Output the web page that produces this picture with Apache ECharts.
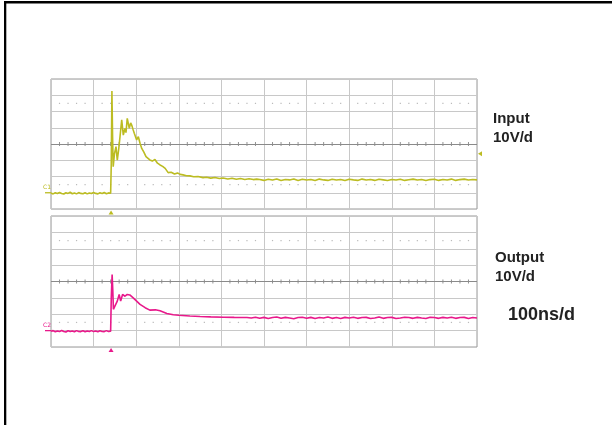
<!DOCTYPE html>
<html><head><meta charset="utf-8">
<script src="https://cdn.jsdelivr.net/npm/echarts@6/dist/echarts.min.js"></script>
<style>html,body{margin:0;padding:0;background:#fff}#c{width:612px;height:425px}</style>
</head><body><div id="c"></div><script>
// Time in divisions (100 ns/div), amplitude in divisions (10 V/div)
const inputTime = [0.00,0.05,0.10,0.15,0.20,0.25,0.30,0.35,0.40,0.45,0.50,0.55,0.60,0.65,0.70,0.75,0.80,0.85,0.90,0.95,1.00,1.05,1.10,1.15,1.20,1.25,1.30,1.35,1.40,
  1.415,1.43,1.445,1.46,1.49,1.526,1.556,1.59,1.62,1.66,1.697,1.737,1.76,1.79,1.838,1.87,1.894,1.925,1.955,2.01,2.05,2.09,2.13,2.18,2.23,2.27,2.32,2.38,2.44,2.50,2.56,2.62,2.68,2.75,2.82,2.90,2.97,3.03,3.10,3.18,3.26,3.35,3.45,3.57,3.65,3.75,3.85,3.95,4.04,4.15,4.25,4.35,4.45,4.55,4.65,4.75,4.83,
  4.9,5.0,5.1,5.2,5.3,5.4,5.5,5.6,5.7,5.8,5.9,6.0,6.1,6.2,6.3,6.4,6.5,6.6,6.7,6.8,6.9,7.0,7.1,7.2,7.3,7.4,7.5,7.6,7.7,7.8,7.9,8.0,8.1,8.2,8.3,8.4,8.5,8.6,8.7,8.8,8.9,9.0,9.1,9.2,9.3,9.4,9.5,9.6,9.7,9.8,9.9,10.0];
const inputVolts = [-3.02,-3.07,-3.00,-3.05,-2.98,-3.04,-3.08,-3.00,-3.04,-2.97,-3.06,-3.01,-3.07,-2.99,-3.04,-3.06,-3.00,-3.07,-3.01,-3.05,-2.98,-3.04,-3.07,-3.00,-3.04,-2.98,-3.06,-3.01,-3.03,
  -1.2,3.26,0.5,-1.40,-0.6,-0.16,-1.0,-0.3,0.45,1.48,0.55,0.96,0.7,1.58,0.96,1.3,1.17,0.9,0.66,0.25,0.45,0.05,-0.27,-0.5,-0.78,-0.85,-0.98,-1.05,-0.95,-1.18,-1.29,-1.38,-1.5,-1.76,-1.74,-1.85,-1.78,-1.87,-1.90,-1.95,-1.96,-2.02,-2.00,-2.07,-2.05,-2.10,-2.06,-2.12,-2.09,-2.15,-2.11,-2.17,-2.12,-2.18,-2.14,-2.19,-2.16,
  -2.18,-2.24,-2.17,-2.22,-2.15,-2.25,-2.18,-2.21,-2.15,-2.24,-2.17,-2.22,-2.18,-2.25,-2.16,-2.21,-2.24,-2.17,-2.22,-2.18,-2.25,-2.17,-2.21,-2.24,-2.16,-2.22,-2.18,-2.24,-2.17,-2.21,-2.25,-2.18,-2.22,-2.17,-2.24,-2.20,-2.16,-2.22,-2.18,-2.25,-2.19,-2.17,-2.24,-2.18,-2.22,-2.16,-2.24,-2.19,-2.16,-2.22,-2.18,-2.21];
const outputTime = [0.00,0.05,0.10,0.15,0.20,0.25,0.30,0.35,0.40,0.45,0.50,0.55,0.60,0.65,0.70,0.75,0.80,0.85,0.90,0.95,1.00,1.05,1.10,1.15,1.20,1.25,1.30,1.35,1.40,
  1.415,1.435,1.45,1.465,1.50,1.556,1.60,1.635,1.68,1.737,1.79,1.85,1.93,2.01,2.09,2.21,2.32,2.45,2.56,2.72,2.87,3.00,3.26,3.50,3.75,4.05,4.30,4.60,
  4.7,4.8,4.9,5.0,5.1,5.2,5.3,5.4,5.5,5.6,5.7,5.8,5.9,6.0,6.1,6.2,6.3,6.4,6.5,6.6,6.7,6.8,6.9,7.0,7.1,7.2,7.3,7.4,7.5,7.6,7.7,7.8,7.9,8.0,8.1,8.2,8.3,8.4,8.5,8.6,8.7,8.8,8.9,9.0,9.1,9.2,9.3,9.4,9.5,9.6,9.7,9.8,9.9,10.0];
const outputVolts = [-3.04,-3.00,-3.07,-3.02,-3.06,-2.99,-3.05,-3.08,-3.01,-3.06,-3.02,-3.07,-3.00,-3.05,-3.06,-3.01,-3.07,-3.02,-3.05,-3.00,-3.06,-3.02,-3.07,-3.01,-3.05,-3.06,-3.00,-3.05,-3.03,
  -1.0,0.43,-0.5,-1.7,-1.5,-1.2,-0.79,-1.2,-0.79,-0.9,-0.79,-0.82,-1.0,-1.2,-1.4,-1.6,-1.75,-1.73,-1.79,-1.95,-2.03,-2.06,-2.11,-2.14,-2.16,-2.18,-2.19,-2.20,
  -2.23,-2.18,-2.25,-2.19,-2.26,-2.20,-2.17,-2.24,-2.19,-2.23,-2.27,-2.20,-2.18,-2.25,-2.19,-2.26,-2.20,-2.23,-2.17,-2.25,-2.20,-2.26,-2.19,-2.23,-2.18,-2.25,-2.20,-2.19,-2.26,-2.23,-2.17,-2.25,-2.20,-2.19,-2.26,-2.23,-2.18,-2.20,-2.25,-2.19,-2.23,-2.26,-2.18,-2.20,-2.25,-2.19,-2.23,-2.18,-2.25,-2.20,-2.19,-2.26,-2.20,-2.23,-2.19,-2.24];
const channelNames = ['Input', 'Output'];
const channelScales = ['10V/d', '10V/d'];
const groundTags = ['C1', 'C2'];
const timebaseLabel = '100ns/d';
const triggerTime = 1.41;
const triggerLevel = -0.6;
const groundLevel = -3;

const YEL = '#bcbc22', MAG = '#e8198b';
const pairs = (t, v) => t.map((x, i) => [x, v[i]]);
const ticks = [], dots = [];
for (let i = 0; i < 10; i++) for (let j = 1; j < 5; j++) {
  const x = i + j / 5; ticks.push([x, 0]); dots.push([x, 2.5], [x, -2.5]);
}
const grids = [
  { left: 51, top: 79, width: 426, height: 130 },
  { left: 51, top: 216, width: 426, height: 131 }
];
const mkX = i => ({ gridIndex: i, type: 'value', min: 0, max: 10, interval: 1,
  axisLine: { show: false }, axisTick: { show: false }, axisLabel: { show: false },
  splitLine: { show: true, lineStyle: { color: '#c8c8c8', width: 1 } } });
const mkY = i => ({ gridIndex: i, type: 'value', min: -4, max: 4, interval: 1,
  axisLine: { show: false }, axisTick: { show: false }, axisLabel: { show: false },
  splitLine: { show: true, lineStyle: { color: '#c8c8c8', width: 1 } } });
const gratSeries = i => [
  { type: 'scatter', xAxisIndex: i, yAxisIndex: i, data: ticks, symbol: 'rect', symbolSize: [1, 4],
    itemStyle: { color: '#777' }, silent: true, z: 1,
    markLine: { silent: true, symbol: 'none', label: { show: false },
      lineStyle: { color: '#8a8a8a', type: 'solid', width: 1 }, data: [{ yAxis: 0 }] } },
  { type: 'scatter', xAxisIndex: i, yAxisIndex: i, data: dots, symbol: 'rect', symbolSize: [1.2, 1.2],
    itemStyle: { color: '#aaa' }, silent: true, z: 1 }
];
const chart = echarts.init(document.getElementById('c'));
chart.setOption({
  animation: false,
  grid: grids.map(g => Object.assign({ show: true, borderColor: '#999', borderWidth: 1 }, g)),
  xAxis: [mkX(0), mkX(1)],
  yAxis: [mkY(0), mkY(1)],
  series: [
    ...gratSeries(0), ...gratSeries(1),
    { type: 'line', xAxisIndex: 0, yAxisIndex: 0, data: pairs(inputTime, inputVolts), showSymbol: false,
      lineStyle: { color: YEL, width: 1.6 }, z: 5 },
    { type: 'line', xAxisIndex: 1, yAxisIndex: 1, data: pairs(outputTime, outputVolts), showSymbol: false,
      lineStyle: { color: MAG, width: 1.6 }, z: 5 }
  ]
});
const p = (gi, x, y) => chart.convertToPixel({ gridIndex: gi }, [x, y]);
const g0 = p(0, triggerTime, groundLevel), g1 = p(1, triggerTime, groundLevel);
const tl = p(0, 10, triggerLevel);
const txt = (x, y, s, size, color) => ({ type: 'text', x: x, y: y,
  style: { text: s, font: 'bold ' + size + 'px "Liberation Sans", Arial, sans-serif', fill: color || '#222', verticalAlign: 'middle' } });
const tri = (cx, cy, color, dir) => ({ type: 'polygon', shape: { points: dir === 'up'
  ? [[cx - 2.5, cy + 2], [cx + 2.5, cy + 2], [cx, cy - 2]]
  : [[cx + 4, cy - 2.5], [cx + 4, cy + 2.5], [cx, cy]] }, style: { fill: color } });
const bot0 = grids[0].top + grids[0].height, bot1 = grids[1].top + grids[1].height;
chart.setOption({ graphic: [
  { type: 'rect', shape: { x: 4, y: 1, width: 608, height: 2.5 }, style: { fill: '#000' } },
  { type: 'rect', shape: { x: 4, y: 1, width: 2.3, height: 424 }, style: { fill: '#000' } },
  txt(493, 118.5, channelNames[0], 15), txt(493, 137.5, channelScales[0], 15),
  txt(495, 258, channelNames[1], 15), txt(495, 276.5, channelScales[1], 15),
  txt(508, 315.5, timebaseLabel, 18),
  { type: 'line', shape: { x1: 45, y1: g0[1], x2: 51, y2: g0[1] }, style: { stroke: YEL, lineWidth: 1.3 } },
  { type: 'line', shape: { x1: 45, y1: g1[1], x2: 51, y2: g1[1] }, style: { stroke: MAG, lineWidth: 1.3 } },
  { type: 'text', x: 43, y: g0[1] - 5, style: { text: groundTags[0], font: '6px "DejaVu Sans", sans-serif', fill: YEL, verticalAlign: 'middle' } },
  { type: 'text', x: 43, y: g1[1] - 5, style: { text: groundTags[1], font: '6px "DejaVu Sans", sans-serif', fill: MAG, verticalAlign: 'middle' } },
  tri(g0[0], bot0 + 3.5, YEL, 'up'),
  tri(g1[0], bot1 + 3, MAG, 'up'),
  tri(tl[0] + 1, tl[1], YEL, 'left')
] });
</script></body></html>
